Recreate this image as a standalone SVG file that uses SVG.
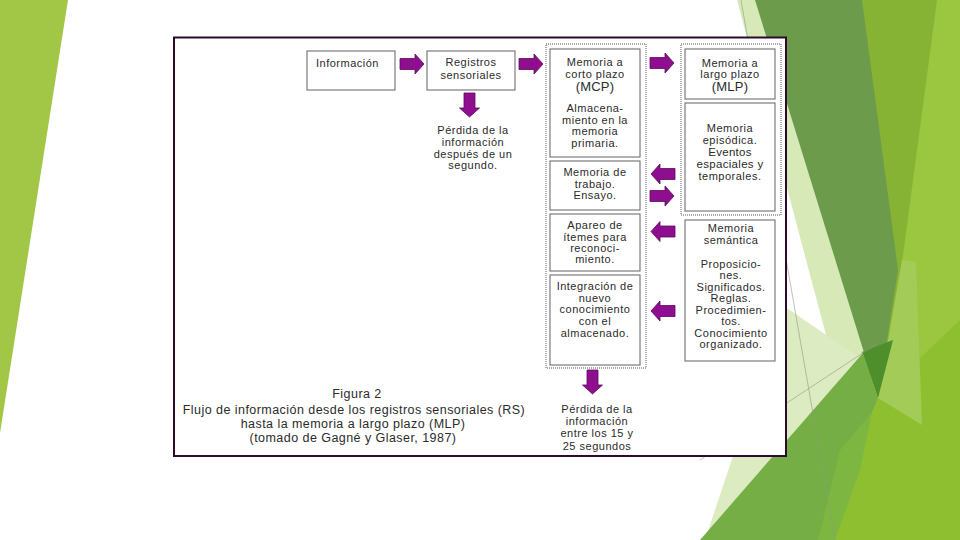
<svg xmlns="http://www.w3.org/2000/svg" xmlns:xlink="http://www.w3.org/1999/xlink" width="960" height="540" viewBox="0 0 960 540">
  <defs>
    <style>
      .t { font-family: "Liberation Sans", Arial, sans-serif; font-size: 11px; fill: #2b2b2b; text-anchor: middle; letter-spacing: 0.5px; }
      .big { font-size: 13px; letter-spacing: 0.2px; }
      .mid { font-size: 11.5px; letter-spacing: 0.3px; }
      .cap { font-family: "Liberation Sans", Arial, sans-serif; font-size: 12.5px; fill: #2b2b2b; text-anchor: middle; letter-spacing: 0.45px; }
      .box { fill: #ffffff; stroke: #6f6f6f; stroke-width: 1.1; }
      .col { fill: #ffffff; stroke: #8c8c8c; stroke-width: 1.4; stroke-dasharray: 1 1; }
      .arr { fill: #8f0e8f; stroke: #5a0a5a; stroke-width: 0.8; stroke-linejoin: miter; }
    </style>
    <path id="arrow" d="M0,-5.5 H15 V-10 L24,0 L15,10 V5.5 H0 Z"/>
  </defs>

  <!-- slide background -->
  <rect x="0" y="0" width="960" height="540" fill="#ffffff"/>
  <g id="background">
    <polygon points="0,0 68,0 0,433" fill="#a2c746"/>
    <polygon points="862,0 960,0 960,540 700,540 878,398" fill="#9ac73f"/>
    <polygon points="878,398 960,320 960,540 818,540" fill="#8dbf30"/>
    <polygon points="862,0 937,0 884,398" fill="#86b334"/>
    <polygon points="902,260 916,262 922,425 878,398" fill="#a3cb58"/>
    <polygon points="737,0 756,0 878,398 830,350" fill="#d8e9b8"/>
    <polygon points="775,300 866,362 705,540 735,450" fill="#dcebc2"/>
    <polygon points="755,0 862,0 898,270 878,398" fill="#6c9b4c"/>
    <polygon points="862,352 893,340 878,398" fill="#4e8e2b"/>
    <polygon points="700,540 863,353 878,398 818,540" fill="#74ae44"/>
    <polygon points="840,450 872,412 860,470 835,540 818,540" fill="#7db640"/>
    <line x1="741" y1="0" x2="835" y2="540" stroke="#8d9c80" stroke-width="0.6"/>
    <line x1="700" y1="460" x2="878" y2="343" stroke="#8d9c80" stroke-width="0.6"/>
  </g>

  <!-- figure frame -->
  <rect x="174" y="37.5" width="612" height="418.5" fill="#ffffff" stroke="#2b0a2b" stroke-width="2"/>

  <g id="n-informacion">
    <rect class="box" x="307" y="51" width="88" height="39"/>
    <text class="t" x="316" y="67" style="text-anchor:start">Información</text>
  </g>

  <g id="n-registros">
    <rect class="box" x="427" y="51" width="88" height="39"/>
    <text class="t" x="471" y="66">Registros</text>
    <text class="t" x="471" y="78.5">sensoriales</text>
  </g>

  <g id="n-perdida1">
    <text class="t" x="473" y="133.5">Pérdida de la</text>
    <text class="t" x="473" y="145.5">información</text>
    <text class="t" x="473" y="157.5">después de un</text>
    <text class="t" x="473" y="169">segundo.</text>
  </g>

  <g id="n-mcp">
    <rect class="col" x="546" y="44" width="100" height="324"/>
    <g id="n-mcp-principal">
      <rect class="box" x="550" y="49" width="90" height="108"/>
      <text class="t" x="595" y="66">Memoria a</text>
      <text class="t" x="595" y="78">corto plazo</text>
      <text class="t big" x="595" y="91">(MCP)</text>
      <text class="t" x="595" y="111.5">Almacena-</text>
      <text class="t" x="595" y="123.5">miento en la</text>
      <text class="t" x="595" y="135">memoria</text>
      <text class="t" x="595" y="147">primaria.</text>
    </g>
    <g id="n-mcp-trabajo">
      <rect class="box" x="550" y="161" width="90" height="49"/>
      <text class="t" x="595" y="176">Memoria de</text>
      <text class="t" x="595" y="187.5">trabajo.</text>
      <text class="t" x="595" y="199">Ensayo.</text>
    </g>
    <g id="n-mcp-apareo">
      <rect class="box" x="550" y="214" width="90" height="57"/>
      <text class="t" x="595" y="228.5">Apareo de</text>
      <text class="t" x="595" y="240.5">ítemes para</text>
      <text class="t" x="595" y="251.5">reconoci-</text>
      <text class="t" x="595" y="262.5">miento.</text>
    </g>
    <g id="n-mcp-integracion">
      <rect class="box" x="550" y="275" width="90" height="90"/>
      <text class="t" x="595" y="290">Integración de</text>
      <text class="t" x="595" y="301.5">nuevo</text>
      <text class="t" x="595" y="313">conocimiento</text>
      <text class="t" x="595" y="325">con el</text>
      <text class="t" x="595" y="337">almacenado.</text>
    </g>
  </g>

  <g id="n-mlp">
    <rect class="col" x="681" y="44" width="100" height="171"/>
    <g id="n-mlp-titulo">
      <rect class="box" x="685" y="49" width="90" height="50"/>
      <text class="t" x="730" y="66.5">Memoria a</text>
      <text class="t" x="730" y="78">largo plazo</text>
      <text class="t big" x="730" y="91">(MLP)</text>
    </g>
    <g id="n-mlp-episodica">
      <rect class="box" x="685" y="103" width="90" height="108"/>
      <text class="t" x="730" y="132">Memoria</text>
      <text class="t" x="730" y="143.5">episódica.</text>
      <text class="t mid" x="730" y="155.5">Eventos</text>
      <text class="t mid" x="730" y="168">espaciales y</text>
      <text class="t" x="730" y="179.5">temporales.</text>
    </g>
  </g>

  <g id="n-semantica">
    <rect class="box" x="685" y="220" width="90" height="141"/>
    <text class="t" x="731" y="232">Memoria</text>
    <text class="t" x="731" y="244">semántica</text>
    <text class="t" x="731" y="267.5">Proposicio-</text>
    <text class="t" x="731" y="279">nes.</text>
    <text class="t" x="731" y="290.5">Significados.</text>
    <text class="t" x="731" y="302">Reglas.</text>
    <text class="t" x="731" y="313.5">Procedimien-</text>
    <text class="t" x="731" y="325">tos.</text>
    <text class="t" x="731" y="336.5">Conocimiento</text>
    <text class="t" x="731" y="348">organizado.</text>
  </g>

  <g id="n-perdida2">
    <text class="t" x="597" y="413">Pérdida de la</text>
    <text class="t" x="597" y="425">información</text>
    <text class="t" x="597" y="437">entre los 15 y</text>
    <text class="t" x="597" y="450">25 segundos</text>
  </g>

  <g id="caption">
    <text class="cap" x="357" y="398">Figura 2</text>
    <text class="cap" x="354" y="414">Flujo de información desde los registros sensoriales (RS)</text>
    <text class="cap" x="353" y="427.5">hasta la memoria a largo plazo (MLP)</text>
    <text class="cap" x="353" y="441.5">(tomado de Gagné y Glaser, 1987)</text>
  </g>

  <g id="connectors">
    <use xlink:href="#arrow" class="arr" transform="translate(400,64)"/>
    <use xlink:href="#arrow" class="arr" transform="translate(519,64)"/>
    <use xlink:href="#arrow" class="arr" transform="translate(650,63)"/>
    <use xlink:href="#arrow" class="arr" transform="translate(469.5,93) rotate(90)"/>
    <use xlink:href="#arrow" class="arr" transform="translate(675,174) scale(-1,1)"/>
    <use xlink:href="#arrow" class="arr" transform="translate(650,196)"/>
    <use xlink:href="#arrow" class="arr" transform="translate(675,231.5) scale(-1,1)"/>
    <use xlink:href="#arrow" class="arr" transform="translate(675,311) scale(-1,1)"/>
    <use xlink:href="#arrow" class="arr" transform="translate(592.5,370) rotate(90)"/>
  </g>
</svg>
